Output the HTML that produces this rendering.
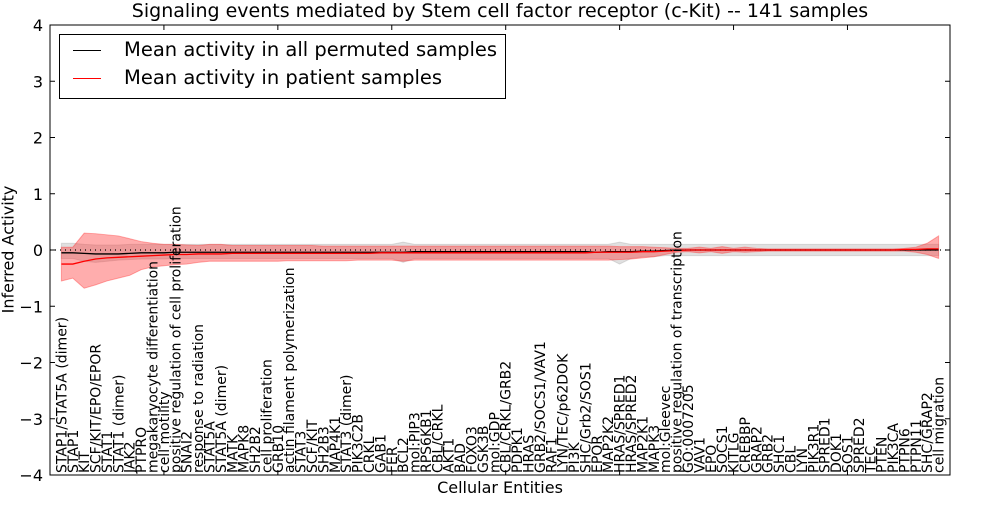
<!DOCTYPE html>
<html><head><meta charset="utf-8"><style>
body{margin:0;background:#fff;font-family:"Liberation Sans","DejaVu Sans",sans-serif}
svg text{font-family:"DejaVu Sans","Liberation Sans",sans-serif}
</style></head><body>
<svg id="chart" width="1000" height="500" xmlns="http://www.w3.org/2000/svg"></svg>
<script>
const categories=["STAP1/STAT5A (dimer)","STAP1","KIT","SCF/KIT/EPO/EPOR","STAT1","STAT1 (dimer)","JAK2","PTPRO","megakaryocyte differentiation","cell motility","positive regulation of cell proliferation","SNAI2","response to radiation","STAT5A","STAT5A (dimer)","MATK","MAPK8","SH2B2","cell proliferation","GRB10","actin filament polymerization","STAT3","SCF/KIT","SH2B3","MAP4K1","STAT3 (dimer)","PIK3C2B","CRKL","GAB1","FER","BCL2","mol:PIP3","RPS6KB1","CBL/CRKL","AKT1","BAD","FOXO3","GSK3B","mol:GDP","CBL/CRKL/GRB2","PDPK1","HRAS","GRB2/SOCS1/VAV1","RAF1","LYN/TEC/p62DOK","PI3K","SHC/Grb2/SOS1","EPOR","MAP2K2","HRAS/SPRED1","HRAS/SPRED2","MAP2K1","MAPK3","mol:Gleevec","positive regulation of transcription","GO:0007205","VAV1","EPO","SOCS1","KITLG","CREBBP","GRAP2","GRB2","SHC1","CBL","LYN","PIK3R1","SPRED1","DOK1","SOS1","SPRED2","TEC","PTEN","PIK3CA","PTPN6","PTPN11","SHC/GRAP2","cell migration"];
const patientMean=[-.25,-.25,-.2,-.16,-.14,-.13,-.12,-.11,-.1,-.09,-.08,-.08,-.07,-.07,-.07,-.06,-.06,-.06,-.06,-.06,-.06,-.06,-.06,-.06,-.06,-.06,-.06,-.06,-.05,-.05,-.05,-.05,-.05,-.05,-.05,-.05,-.05,-.05,-.05,-.05,-.05,-.05,-.05,-.05,-.05,-.05,-.05,-.04,-.04,-.04,-.04,-.03,-.03,-.02,-.01,0,0,0,0,0,0,0,0,0,0,0,0,0,0,0,0,0,0,0,.01,.01,.02,.02];
const patientUpper=[.05,.05,.3,.29,.27,.25,.2,.15,.12,.1,.1,.09,.08,.1,.1,.08,.08,.08,.08,.08,.08,.08,.08,.07,.07,.07,.07,.07,.07,.07,.07,.07,.07,.07,.07,.07,.07,.07,.07,.07,.07,.07,.07,.07,.07,.07,.07,.07,.07,.06,.06,.06,.05,.04,.03,.03,.05,.03,.06,.03,.05,.03,.02,.02,.02,.02,.02,.02,.02,.02,.02,.02,.02,.02,.03,.05,.12,.25];
const patientLower=[-.55,-.5,-.68,-.62,-.55,-.5,-.45,-.35,-.3,-.28,-.26,-.25,-.22,-.2,-.2,-.2,-.2,-.2,-.2,-.2,-.19,-.19,-.19,-.19,-.19,-.19,-.18,-.18,-.18,-.18,-.2,-.18,-.18,-.18,-.18,-.18,-.18,-.18,-.18,-.18,-.18,-.18,-.18,-.18,-.18,-.18,-.18,-.18,-.18,-.17,-.16,-.14,-.12,-.08,-.04,-.03,-.05,-.03,-.06,-.03,-.04,-.03,-.02,-.02,-.02,-.02,-.02,-.02,-.02,-.02,-.02,-.02,-.02,-.02,-.02,-.04,-.08,-.15];
const permMean=[-.05,-.05,-.06,-.07,-.07,-.07,-.06,-.05,-.05,-.05,-.04,-.04,-.04,-.04,-.04,-.04,-.04,-.04,-.04,-.04,-.04,-.04,-.04,-.04,-.04,-.04,-.04,-.04,-.04,-.04,-.04,-.03,-.03,-.03,-.03,-.03,-.03,-.03,-.03,-.03,-.03,-.03,-.03,-.03,-.03,-.03,-.03,-.04,-.03,-.03,-.03,-.02,-.02,-.01,0,0,0,0,0,0,0,0,0,0,0,0,0,0,0,0,0,0,0,0,0,0,0,0];
const permUpper=[.12,.12,.1,.09,.09,.09,.1,.1,.1,.1,.1,.1,.1,.1,.1,.1,.1,.1,.1,.1,.1,.1,.1,.1,.1,.1,.1,.1,.1,.1,.14,.1,.1,.1,.1,.1,.1,.1,.1,.1,.1,.1,.1,.1,.1,.1,.1,.1,.1,.14,.1,.1,.1,.1,.1,.1,.1,.1,.1,.1,.1,.1,.1,.1,.1,.1,.1,.1,.1,.1,.1,.1,.1,.1,.1,.1,.1,.1];
const permLower=[-.15,-.15,-.2,-.22,-.2,-.18,-.17,-.16,-.16,-.16,-.15,-.15,-.15,-.15,-.15,-.15,-.15,-.15,-.15,-.15,-.15,-.15,-.15,-.15,-.15,-.15,-.15,-.15,-.15,-.15,-.22,-.15,-.15,-.15,-.15,-.15,-.15,-.15,-.15,-.15,-.15,-.15,-.15,-.15,-.15,-.15,-.15,-.15,-.15,-.25,-.15,-.12,-.12,-.1,-.1,-.1,-.1,-.1,-.1,-.1,-.1,-.1,-.1,-.1,-.1,-.1,-.1,-.1,-.1,-.1,-.1,-.1,-.1,-.1,-.1,-.1,-.1,-.1];
const yTicks=[4,3,2,1,0,-1,-2,-3,-4];
const yTickLabels=["4","3","2","1","0","\u22121","\u22122","\u22123","\u22124"];
const xTicks=[0,10,20,30,40,50,60,70];

const L=50,R=950,T=25,B=475;
const x=i=>L+(i+1)*(R-L)/79;
const xt=v=>L+v*(R-L)/79;
const y=v=>T+(4-v)*(B-T)/8;
const svg=document.getElementById('chart');
const NS='http://www.w3.org/2000/svg';
function el(tag,attrs,parent){const e=document.createElementNS(NS,tag);for(const k in attrs)e.setAttribute(k,attrs[k]);(parent||svg).appendChild(e);return e;}
function band(up,lo,fill,op,name){
  let d='M'+up.map((v,i)=>x(i)+','+y(v)).join('L');
  for(let i=lo.length-1;i>=0;i--)d+='L'+x(i)+','+y(lo[i]);
  const p=el('path',{d:d+'Z',fill:fill,'fill-opacity':op,stroke:fill,'stroke-opacity':op,'stroke-width':1});
  
  
}
function line(arr,color,name){
  const p=el('path',{d:'M'+arr.map((v,i)=>x(i)+','+y(v)).join('L'),fill:'none',stroke:color,'stroke-width':1.3});
  
  
}
band(permUpper,permLower,'#999999',0.3,'permuted-band');
band(patientUpper,patientLower,'#ff3333',0.4,'patient-band');
const zl=el('line',{x1:L,x2:R,y1:y(0),y2:y(0),stroke:'#000','stroke-dasharray':'1,4','stroke-width':1.2});


line(permMean,'#000','permuted-mean-line');
line(patientMean,'#ff0000','patient-mean-line');
const fr=el('rect',{x:L,y:T,width:R-L,height:B-T,fill:'none',stroke:'#000','stroke-width':1});


yTicks.forEach((v,i)=>{
  el('line',{x1:L,x2:L+5,y1:y(v),y2:y(v),stroke:'#000'});
  el('line',{x1:R,x2:R-5,y1:y(v),y2:y(v),stroke:'#000'});
  const t=el('text',{x:L-7,y:y(v)+6,'text-anchor':'end','font-size':16});
  t.textContent=yTickLabels[i];
  
  
});
xTicks.forEach(v=>{
  el('line',{x1:xt(v),x2:xt(v),y1:T,y2:T+5,stroke:'#000'});
  el('line',{x1:xt(v),x2:xt(v),y1:B,y2:B-5,stroke:'#000'});
});
categories.forEach((c,i)=>{
  const t=el('text',{transform:`translate(${x(i)+5},${B-2}) rotate(-90)`,'font-size':14});
  t.textContent=c;
  
  
});
</script>
<div style="position:absolute;left:0;top:0;width:1000px;height:500px;pointer-events:none">
<div style="position:absolute;left:0;width:1000px;top:0px;text-align:center;font:19px 'DejaVu Sans','Liberation Sans',sans-serif">Signaling events mediated by Stem cell factor receptor (c-Kit) -- 141 samples</div>
<div style="position:absolute;left:0;width:1000px;top:478px;text-align:center;font:16px 'DejaVu Sans','Liberation Sans',sans-serif">Cellular Entities</div>
<div style="position:absolute;left:-92px;top:240px;width:200px;text-align:center;transform:rotate(-90deg);font:16px 'DejaVu Sans','Liberation Sans',sans-serif">Inferred Activity</div>
<div style="position:absolute;left:59px;top:34px;width:445px;height:63px;border:1px solid #000;background:#fff;font:19.5px 'DejaVu Sans','Liberation Sans',sans-serif">
 <div style="position:absolute;left:13px;top:3px;white-space:nowrap"><span style="display:inline-block;width:28px;height:0;border-top:1.3px solid #000;vertical-align:middle;margin-right:23px"></span>Mean activity in all permuted samples</div>
 <div style="position:absolute;left:13px;top:31px;white-space:nowrap"><span style="display:inline-block;width:28px;height:0;border-top:1.3px solid #f00;vertical-align:middle;margin-right:23px"></span>Mean activity in patient samples</div>
</div>
</div>
</body></html>
